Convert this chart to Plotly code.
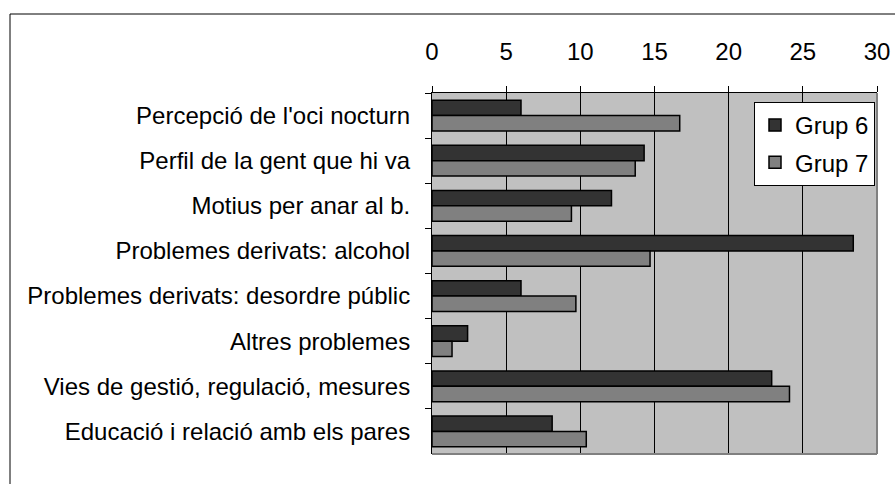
import plotly.graph_objects as go

categories = [
    "Percepció de l'oci nocturn",
    "Perfil de la gent que hi va",
    "Motius per anar al b.",
    "Problemes derivats: alcohol",
    "Problemes derivats: desordre públic",
    "Altres problemes",
    "Vies de gestió, regulació, mesures",
    "Educació i relació amb els pares",
]
grup6 = [6.0, 14.3, 12.1, 28.4, 6.0, 2.4, 22.9, 8.1]
grup7 = [16.7, 13.7, 9.4, 14.7, 9.7, 1.35, 24.1, 10.4]
x_ticks = [0, 5, 10, 15, 20, 25, 30]

FONT = "Liberation Sans, Arial, sans-serif"
FS = 24

fig = go.Figure()
fig.add_trace(go.Bar(y=categories, x=grup6, orientation="h", name="Grup 6",
                     marker=dict(color="#333333", line=dict(color="black", width=1.5)),
                     legendgroup="g6"))
fig.add_trace(go.Bar(y=categories, x=grup7, orientation="h", name="Grup 7",
                     marker=dict(color="#808080", line=dict(color="black", width=1.5)),
                     legendgroup="g7"))

L, R, T, B = 432, 18, 93, 30
W, H = 895, 484
pw, ph = W - L - R, H - T - B

def px(xp):
    return (xp - L) / pw

def py(yp):
    return (H - B - yp) / ph

fig.update_layout(
    width=W, height=H,
    margin=dict(l=L, r=R, t=T, b=B, pad=0, autoexpand=False),
    paper_bgcolor="white",
    plot_bgcolor="#C0C0C0",
    barmode="group",
    bargap=0.32,
    bargroupgap=0,
    font=dict(family=FONT, size=FS, color="black"),
    xaxis=dict(side="top", range=[0, 30], tickmode="array", tickvals=x_ticks,
               ticks="outside", ticklen=6, tickcolor="black", showline=True,
               linecolor="black", linewidth=1, showgrid=True, gridcolor="black",
               gridwidth=1, zeroline=False, ticklabelstandoff=16,
               tickfont=dict(size=FS), automargin=False),
    yaxis=dict(autorange="reversed", ticks="outside", tickson="boundaries",
               ticklen=6, tickcolor="black", showline=True, linecolor="black",
               linewidth=1, showgrid=False, ticklabelstandoff=16,
               tickfont=dict(size=FS), automargin=False),
    legend=dict(x=px(754), y=py(102), xanchor="left", yanchor="top",
                bgcolor="white", bordercolor="black", borderwidth=1,
                font=dict(size=FS), traceorder="grouped", tracegroupgap=3,
                itemwidth=30),
    showlegend=True,
    shapes=[
        dict(type="line", xref="paper", yref="paper", x0=1, x1=1, y0=0, y1=1,
             line=dict(color="#808080", width=2), layer="above"),
        dict(type="line", xref="paper", yref="paper", x0=0, x1=1, y0=0, y1=0,
             line=dict(color="#808080", width=2), layer="above"),
        dict(type="rect", xref="paper", yref="paper", x0=px(10), x1=px(905),
             y0=py(495), y1=py(14), line=dict(color="black", width=1),
             fillcolor="rgba(0,0,0,0)", layer="above"),
    ],
)

fig.write_html("out.html", config={"displayModeBar": False},
               post_script="document.body.style.margin='0';document.body.style.overflow='hidden';")
